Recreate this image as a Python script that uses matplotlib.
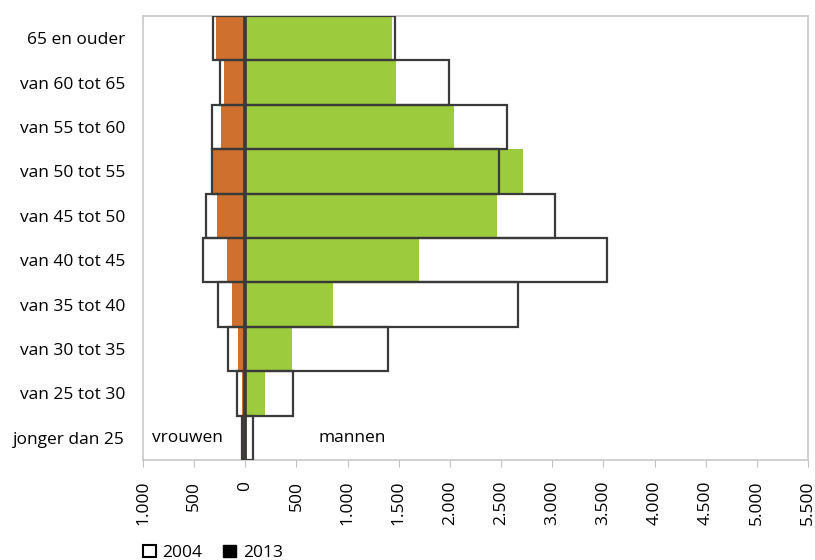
import matplotlib
matplotlib.use("Agg")
import matplotlib.pyplot as plt
from matplotlib.patches import Patch
from matplotlib.ticker import FuncFormatter, MultipleLocator

plt.rcParams['font.family'] = ['Open Sans', 'DejaVu Sans']

categories = ["65 en ouder", "van 60 tot 65", "van 55 tot 60", "van 50 tot 55",
              "van 45 tot 50", "van 40 tot 45", "van 35 tot 40", "van 30 tot 35",
              "van 25 tot 30", "jonger dan 25"]
women_2004 = [313, 247, 325, 325, 384, 417, 264, 172, 78, 35]
men_2004 = [1463, 1994, 2555, 2480, 3030, 3533, 2666, 1398, 463, 78]
women_2013 = [290, 208, 240, 319, 274, 182, 133, 74, 35, 20]
men_2013 = [1437, 1470, 2043, 2718, 2457, 1698, 860, 453, 193, 17]

orange = "#D0702F"
green = "#9CCB3E"
edge = "#3a3a3a"

fig = plt.figure(figsize=(8.15, 5.6), dpi=100)
ax = fig.add_axes([143/815, 1-460/560, (808-143)/815, (460-16)/560])

ypos = list(range(len(categories)))
ax.barh(ypos, [-w for w in women_2013], height=1.0, color=orange, zorder=2)
ax.barh(ypos, men_2013, height=1.0, color=green, zorder=2)
ax.barh(ypos, [-w for w in women_2004], height=1.0, facecolor="none",
        edgecolor=edge, linewidth=1.6, zorder=3)
ax.barh(ypos, men_2004, height=1.0, facecolor="none",
        edgecolor=edge, linewidth=1.6, zorder=3)
ax.axvline(0, color=edge, linewidth=2.6, zorder=4)

ax.set_xlim(-1000, 5500)
ax.set_ylim(len(categories) - 0.5, -0.5)
ax.set_yticks(ypos)
ax.set_yticklabels(categories, fontsize=12.5)
ax.tick_params(axis='y', length=0, pad=13)
ax.xaxis.set_major_locator(MultipleLocator(500))
ax.xaxis.set_major_formatter(FuncFormatter(
    lambda v, p: f"{abs(int(round(v))):,}".replace(",", ".")))
ax.tick_params(axis='x', length=5, color="#c0c0c0", labelsize=12.5,
               labelrotation=90, pad=10)

for s in ax.spines.values():
    s.set_color("#c8c8c8")
    s.set_linewidth(1.2)

ax.text(-570, 9, "vrouwen", ha="center", va="center", fontsize=12.5, zorder=5)
ax.text(1045, 9, "mannen", ha="center", va="center", fontsize=12.5, zorder=5)

handles = [Patch(facecolor="white", edgecolor="black", linewidth=1.5, label="2004"),
           Patch(facecolor="black", edgecolor="black", label="2013")]
fig.legend(handles=handles, loc="lower left", bbox_to_anchor=(127/815, -0.03),
           ncol=2, frameon=False, fontsize=12.5, handlelength=0.75, handleheight=0.75,
           handletextpad=0.4, columnspacing=1.2)

fig.savefig("out.png", dpi=100)
